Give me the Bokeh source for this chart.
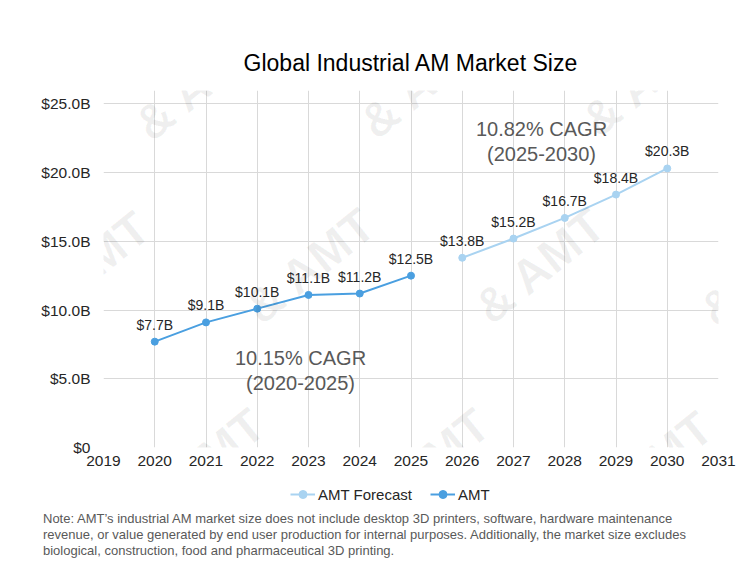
from bokeh.plotting import figure
from bokeh.layouts import column
from bokeh.core.properties import value
from bokeh.models import (ColumnDataSource, Div, FixedTicker, Label, LabelSet,
                          Legend, LegendItem, Range1d)
from bokeh.embed import file_html
from bokeh.resources import INLINE

# Global industrial AM market size, billions of USD
actual_years = [2020, 2021, 2022, 2023, 2024, 2025]
actual_values = [7.7, 9.1, 10.1, 11.1, 11.2, 12.5]
forecast_years = [2026, 2027, 2028, 2029, 2030]
forecast_values = [13.8, 15.2, 16.7, 18.4, 20.3]

x_ticks = list(range(2019, 2032))
y_ticks = [0, 5, 10, 15, 20, 25]
y_tick_labels = ["$0", "$5.0B", "$10.0B", "$15.0B", "$20.0B", "$25.0B"]

series_names = ["AMT Forecast", "AMT"]
title_text = "Global Industrial AM Market Size"
cagr_actual = ["10.15% CAGR", "(2020-2025)"]
cagr_forecast = ["10.82% CAGR", "(2025-2030)"]
note_lines = [
    "Note: AMT\u2019s industrial AM market size does not include desktop 3D printers, software, hardware maintenance",
    "revenue, or value generated by end user production for internal purposes. Additionally, the market size excludes",
    "biological, construction, food and pharmaceutical 3D printing.",
]
watermark_text = "& AMT"

FONT = "Liberation Sans"
DARK = "#262626"
GREY = "#595959"
BLUE = "#4A9FE0"
LIGHT_BLUE = "#A9D3F1"

W = 749
LEFT, RIGHT, TOP = 103, 31, 90
FRAME_BOTTOM = 447            # pixel row of the x axis baseline
CHART_H = 477                 # main chart incl. x tick labels
LEGEND_H = 34                 # legend strip
LEGEND_TOP = CHART_H

fig = figure(width=W, height=CHART_H,
             x_range=Range1d(2019, 2031), y_range=Range1d(0, 25.97),
             output_backend="svg", toolbar_location=None,
             min_border_left=LEFT, min_border_right=RIGHT,
             min_border_top=TOP, min_border_bottom=CHART_H - FRAME_BOTTOM)
fig.outline_line_color = None
fig.background_fill_color = "white"
fig.border_fill_color = "white"

# title above the frame
fig.title.text = title_text
fig.title.align = "center"
fig.title.text_font = FONT
fig.title.text_font_size = "23px"
fig.title.text_font_style = "normal"
fig.title.text_color = "#000000"
fig.title.standoff = 29

# axes
fig.xaxis.ticker = FixedTicker(ticks=x_ticks)
fig.yaxis.ticker = FixedTicker(ticks=y_ticks)
fig.yaxis.major_label_overrides = {t: s for t, s in zip(y_ticks, y_tick_labels)}
for ax in (fig.xaxis[0], fig.yaxis[0]):
    ax.axis_line_color = None
    ax.major_tick_line_color = None
    ax.minor_tick_line_color = None
    ax.major_tick_in = 0
    ax.major_tick_out = 0
    ax.minor_tick_in = 0
    ax.minor_tick_out = 0
    ax.major_label_text_font = FONT
    ax.major_label_text_font_size = "15.5px"
    ax.major_label_text_color = DARK
fig.yaxis.major_label_standoff = 13
fig.xaxis.major_label_standoff = 8

fig.grid.grid_line_color = "#d9d9d9"
fig.grid.grid_line_width = 1

# faint diagonal watermark tiles inside the plotting area
wm_centres = [(-20, 88), (200, 82), (425, 80), (647, 78),
              (85, 268), (310, 265), (540, 265), (765, 268),
              (0, 466), (200, 465), (425, 465), (648, 468)]
for cx, cy in wm_centres:
    fig.add_layout(Label(x=cx - LEFT, y=FRAME_BOTTOM - cy, x_units="screen", y_units="screen",
                         text=watermark_text, angle=0.68, text_align="center",
                         text_baseline="middle", text_font=FONT, text_font_style="bold",
                         text_font_size="48px", text_color="#000000", text_alpha=0.06))

# series
src_a = ColumnDataSource(dict(x=actual_years, y=actual_values,
                              label=[f"${v:.1f}B" for v in actual_values]))
src_f = ColumnDataSource(dict(x=forecast_years, y=forecast_values,
                              label=[f"${v:.1f}B" for v in forecast_values]))

def draw_series(plot):
    lf = plot.line("x", "y", source=src_f, line_color=LIGHT_BLUE, line_width=2)
    sf = plot.scatter("x", "y", source=src_f, size=7, fill_color=LIGHT_BLUE, line_color=LIGHT_BLUE)
    la = plot.line("x", "y", source=src_a, line_color=BLUE, line_width=2)
    sa = plot.scatter("x", "y", source=src_a, size=7, fill_color=BLUE, line_color=BLUE)
    return (lf, sf), (la, sa)

draw_series(fig)

for src in (src_a, src_f):
    fig.add_layout(LabelSet(x="x", y="y", text="label", source=src,
                            y_offset=17, text_align="center", text_baseline="middle",
                            text_font=value(FONT), text_font_size=value("14px"),
                            text_color=DARK))

# CAGR annotations (screen units relative to the frame's bottom-left)
def frame_label(text, cx, cy):
    fig.add_layout(Label(x=cx - LEFT, y=FRAME_BOTTOM - cy, x_units="screen", y_units="screen",
                         text=text, text_align="center", text_baseline="middle",
                         text_font=FONT, text_font_size="20px", text_color=GREY))

frame_label(cagr_actual[0], 300, 357)
frame_label(cagr_actual[1], 300, 382)
frame_label(cagr_forecast[0], 541, 128)
frame_label(cagr_forecast[1], 541, 153)

# legend strip: same series, with a y window that keeps the marks out of view,
# so only the legend entries show
key = figure(width=W, height=LEGEND_H, x_range=Range1d(2019, 2031), y_range=Range1d(-10, -9),
             x_axis_type=None, y_axis_type=None, output_backend="svg",
             toolbar_location=None, min_border=0)
key.outline_line_color = None
key.background_fill_color = "white"
key.border_fill_color = "white"
key.grid.visible = False
(klf, ksf), (kla, ksa) = draw_series(key)

legend = Legend(items=[LegendItem(label=series_names[0], renderers=[klf, ksf]),
                       LegendItem(label=series_names[1], renderers=[kla, ksa])],
                orientation="horizontal", location=(187, LEGEND_H - (494 - LEGEND_TOP) - 10),
                padding=0, margin=0, spacing=18, glyph_width=25, glyph_height=20,
                label_standoff=3, label_text_font=FONT, label_text_font_size="15px",
                label_text_color=DARK, border_line_color=None, background_fill_alpha=0)
key.add_layout(legend)

# footnote below the chart
note = Div(text="<br>".join(note_lines), width=706, margin=(0, 0, 0, 43),
           styles={"font-family": FONT, "font-size": "13px", "line-height": "16px",
                   "color": GREY, "white-space": "nowrap"})

p = column(fig, key, note, spacing=0)

open("out.html", "w").write(file_html(p, INLINE))
